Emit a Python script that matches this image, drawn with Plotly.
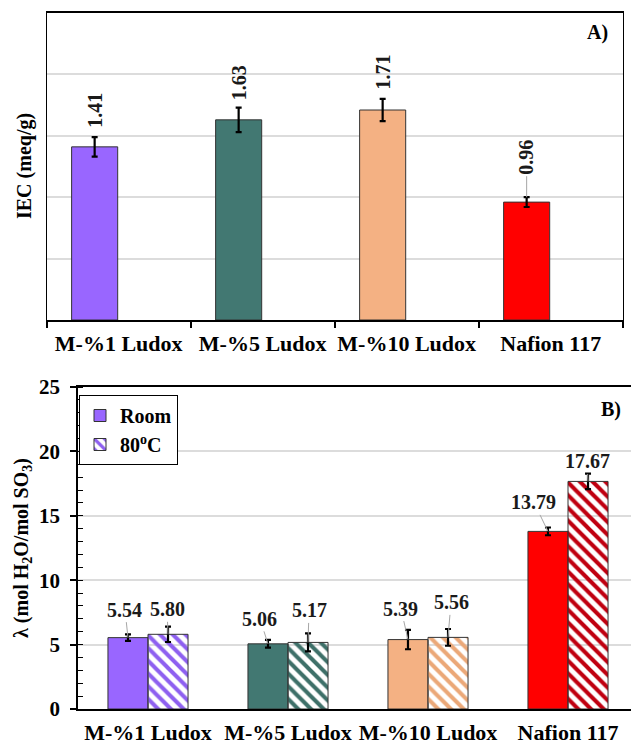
import plotly.graph_objects as go

# ---------------- data ----------------
categories = ["M-%1 Ludox", "M-%5 Ludox", "M-%10 Ludox", "Nafion 117"]
iec_values = [1.41, 1.63, 1.71, 0.96]
iec_errors = [0.08, 0.10, 0.09, 0.04]
lambda_room = [5.54, 5.06, 5.39, 13.79]
lambda_room_err = [0.25, 0.30, 0.75, 0.30]
lambda_80 = [5.80, 5.17, 5.56, 17.67]
lambda_80_err = [0.60, 0.70, 0.65, 0.60]

# ---------------- styles ----------------
bar_colors = ["#9966FF", "#427872", "#F4B183", "#FF0000"]
hatch_colors = ["#8E60F0", "#3E7069", "#EBA878", "#C00010"]
FONT = "Liberation Serif"
grid_col = "#DCDCDC"
leader_col = "#A6A6A6"
no_col = "rgba(0,0,0,0)"

# label offsets (pixels) for the value labels
a_label_ay = [-27, -25, -27, -40]
a_leader = [False, False, False, True]
b_room_ax = [-3, -8, -7, -14]
b_room_ay = [-28, -25, -31, -29]
b_80_ax = [-1, 1, 3, -1]
b_80_ay = [-25, -32, -35, -20]

a_off, a_w = -0.327, 0.32
b_w = 0.286

fig = go.Figure()

# Panel A
fig.add_trace(go.Bar(
    x=categories, y=iec_values, xaxis="x", yaxis="y",
    offset=a_off, width=a_w,
    marker=dict(color=bar_colors, line=dict(color="#333333", width=1)),
    error_y=dict(type="data", array=iec_errors, color="black", thickness=2.2, width=3),
    showlegend=False,
))

# Panel B
fig.add_trace(go.Bar(
    x=categories, y=lambda_room, xaxis="x2", yaxis="y2",
    offset=-b_w, width=b_w, name="Room",
    marker=dict(color=bar_colors, line=dict(color="#333333", width=1)),
    error_y=dict(type="data", array=lambda_room_err, color="black", thickness=2.2, width=3),
))
fig.add_trace(go.Bar(
    x=categories, y=lambda_80, xaxis="x2", yaxis="y2",
    offset=0, width=b_w, name="80<sup>o</sup>C",
    marker=dict(color=hatch_colors, line=dict(color="#333333", width=1),
                pattern=dict(shape="\\", fgcolor=hatch_colors, bgcolor="white",
                             size=9, solidity=0.45, fillmode="replace")),
    error_y=dict(type="data", array=lambda_80_err, color="black", thickness=2.2, width=3),
))

annotations = []
lab_font = dict(family=FONT, size=20, color="#1a1a1a", weight="bold")
for i, (v, e) in enumerate(zip(iec_values, iec_errors)):
    annotations.append(dict(
        x=i + a_off + a_w / 2, y=v + e, xref="x", yref="y",
        text=f"{v:.2f}", textangle=-90, showarrow=True, arrowhead=0,
        arrowcolor=leader_col if a_leader[i] else no_col, arrowwidth=1,
        ax=0, ay=a_label_ay[i], font=lab_font,
    ))
for i, v in enumerate(lambda_room):
    annotations.append(dict(
        x=i - b_w / 2, y=v, xref="x2", yref="y2",
        text=f"{v:.2f}", showarrow=True, arrowhead=0,
        arrowcolor=leader_col, arrowwidth=1, ax=b_room_ax[i], ay=b_room_ay[i],
        font=lab_font,
    ))
for i, v in enumerate(lambda_80):
    annotations.append(dict(
        x=i + b_w / 2, y=v, xref="x2", yref="y2",
        text=f"{v:.2f}", showarrow=True, arrowhead=0,
        arrowcolor=leader_col, arrowwidth=1, ax=b_80_ax[i], ay=b_80_ay[i],
        font=lab_font,
    ))

title_font = dict(family=FONT, size=20, color="black", weight="bold")
paper_ann = dict(xref="paper", yref="paper", showarrow=False, font=title_font,
                 xanchor="center", yanchor="middle")
annotations += [
    dict(text="IEC (meq/g)", x=24 / 631, y=1 - 166 / 744, textangle=-90, **paper_ann),
    dict(text="λ (mol H<sub>2</sub>O/mol SO<sub>3</sub>)", x=22 / 631, y=1 - 548 / 744,
         textangle=-90, **paper_ann),
    dict(text="A)", x=597 / 631, y=1 - 33 / 744, **paper_ann),
    dict(text="B)", x=611 / 631, y=1 - 410 / 744, **paper_ann),
]

tick_font = dict(family=FONT, size=22, color="black", weight="bold")

fig.update_layout(
    width=631, height=744,
    margin=dict(l=0, r=0, t=0, b=0, autoexpand=False),
    paper_bgcolor="white", plot_bgcolor="white",
    barmode="group",
    font=dict(family=FONT, color="black"),
    xaxis=dict(
        domain=[46.7 / 631, 622.7 / 631], anchor="y", type="category",
        categoryorder="array", categoryarray=categories, range=[-0.5, 3.5],
        tickson="boundaries", ticks="outside", ticklen=6, tickwidth=1.5, tickcolor="black",
        showline=True, linecolor="black", linewidth=1.5, mirror=True,
        tickfont=tick_font, showgrid=False, ticklabelstandoff=3, tickangle=0,
    ),
    yaxis=dict(
        domain=[1 - 320 / 744, 1 - 13 / 744], anchor="x", range=[0, 2.5], dtick=0.5,
        showticklabels=False, ticks="", gridcolor=grid_col, gridwidth=1.5,
        showline=True, linecolor="black", linewidth=1, mirror=True, zeroline=False,
    ),
    xaxis2=dict(
        domain=[78 / 631, 1.0], anchor="y2", type="category",
        categoryorder="array", categoryarray=categories, range=[-0.5, 3.45],
        ticks="", showline=True, linecolor="black", linewidth=1.5, mirror=True,
        tickfont=tick_font, showgrid=False, ticklabelstandoff=3, tickangle=0,
    ),
    yaxis2=dict(
        domain=[1 - 709 / 744, 1 - 387 / 744], anchor="x2", range=[0, 25], dtick=5,
        ticks="outside", ticklen=6, tickwidth=1.5, tickcolor="black",
        minor=dict(dtick=1, ticks="inside", ticklen=5, tickwidth=1, tickcolor="black",
                   showgrid=False),
        showline=True, linecolor="black", linewidth=1.5, zeroline=False,
        gridcolor=grid_col, gridwidth=1.5, ticklabelstandoff=6,
        tickfont=dict(family=FONT, size=21, color="black", weight="bold"),
    ),
    legend=dict(
        x=79 / 631, y=1 - 395 / 744, xanchor="left", yanchor="top",
        bgcolor="white", bordercolor="black", borderwidth=1,
        font=dict(family=FONT, size=20, color="black", weight="bold"),
        tracegroupgap=0, itemwidth=30,
    ),
    annotations=annotations,
)

fig.write_html("out.html")
